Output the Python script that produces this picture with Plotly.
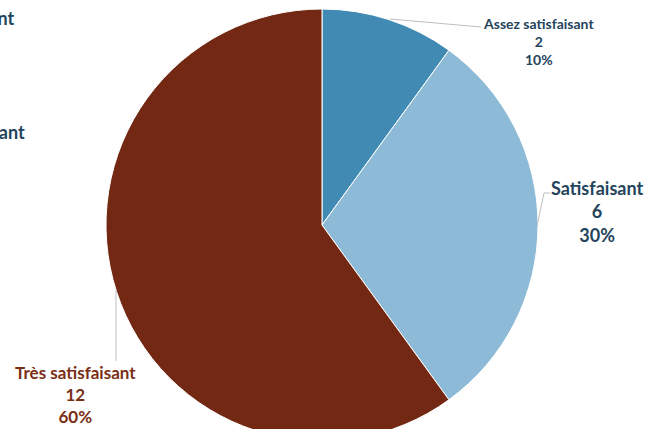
import plotly.graph_objects as go

labels = ["Assez satisfaisant", "Satisfaisant", "Très satisfaisant"]
values = [2, 6, 12]
colors = ["#418AB3", "#8DBAD6", "#722812"]
text_colors = ["#24445C", "#24445C", "#7A2E14"]

W, H = 646, 450

def px(x):
    return x / W

def py(y):
    return 1 - y / H

total = sum(values)
pcts = [round(v * 100 / total) for v in values]

fig = go.Figure(go.Pie(
    labels=labels,
    values=values,
    sort=False,
    direction="clockwise",
    rotation=0,
    marker=dict(colors=colors, line=dict(color="white", width=1)),
    textinfo="none",
    hoverinfo="label+value+percent",
    showlegend=False,
    domain=dict(x=[px(106), px(538)], y=[py(441), py(9)]),
))

font_family = "Lato, 'Open Sans', sans-serif"
label_pos = [
    (538, 41, 14),
    (597, 211, 18),
    (75, 394, 17),
]
for lab, v, p, c, (x, y, s) in zip(labels, values, pcts, text_colors, label_pos):
    fig.add_annotation(
        x=px(x), y=py(y), xref="paper", yref="paper",
        text=f"<b>{lab}<br>{v}<br>{p}%</b>",
        showarrow=False, xanchor="center", yanchor="middle",
        font=dict(family=font_family, size=s, color=c),
    )

# legend texts cut off at the left edge, as in the reference
for t, x, y in [("Peu satisfaisant", 16, 18), ("Pas satisfaisant", 27, 132)]:
    fig.add_annotation(
        x=px(x), y=py(y), xref="paper", yref="paper",
        text=f"<b>{t}</b>", showarrow=False, xanchor="right", yanchor="middle",
        font=dict(family=font_family, size=18, color="#24445C"),
    )

line = dict(color="#BFBFBF", width=1)
fig.add_shape(type="line", xref="paper", yref="paper",
              x0=px(390), y0=py(19), x1=px(481), y1=py(27), line=line)
fig.add_shape(type="line", xref="paper", yref="paper",
              x0=px(537), y0=py(226), x1=px(544), y1=py(193), line=line)
fig.add_shape(type="line", xref="paper", yref="paper",
              x0=px(544), y0=py(193), x1=px(550), y1=py(193), line=line)
fig.add_shape(type="line", xref="paper", yref="paper",
              x0=px(116), y0=py(290), x1=px(116), y1=py(361), line=line)

fig.update_layout(
    width=W, height=H,
    margin=dict(l=0, r=0, t=0, b=0),
    paper_bgcolor="white", plot_bgcolor="white",
)

fig.write_html(
    "out.html",
    config={"displayModeBar": False},
    post_script="document.body.style.margin='0';document.body.style.overflow='hidden';",
)
